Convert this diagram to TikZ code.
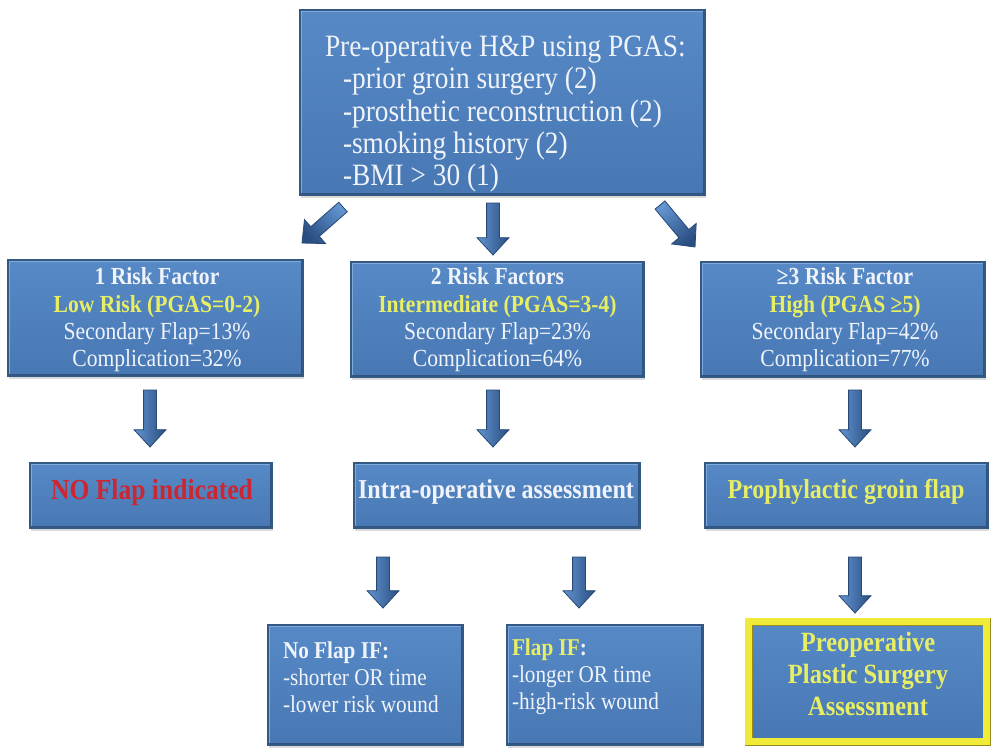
\documentclass[tikz,border=0pt]{standalone}
\usepackage{fontspec}
\setmainfont{Liberation Serif}[FakeStretch=0.88]
\usetikzlibrary{calc,shadows}
\newdimen\pxu \pxu=0.75pt
\definecolor{boxtop}{RGB}{86,137,198}
\definecolor{boxbot}{RGB}{72,120,180}
\definecolor{boxedge}{RGB}{52,88,132}
\definecolor{boxlight}{RGB}{128,170,222}
\definecolor{boxdark}{RGB}{48,84,128}
\definecolor{twhite}{RGB}{240,244,250}
\definecolor{ytext}{RGB}{232,238,100}
\definecolor{rtext}{RGB}{205,38,48}
\definecolor{arrlight}{RGB}{98,148,208}
\definecolor{arrmid}{RGB}{80,130,192}
\definecolor{arrdark}{RGB}{42,78,128}
\definecolor{arredge}{RGB}{40,72,118}
\definecolor{yfill}{RGB}{240,234,56}
\definecolor{yedge}{RGB}{150,140,30}
\newcommand\fsTop{\fontsize{23.3}{24.2}\selectfont}
\newcommand\fsMid{\fontsize{18.4}{20.5}\selectfont}
\newcommand\fsRow{\fontsize{20.5}{24}\selectfont}
\newcommand\fsLow{\fontsize{18.1}{20.3}\selectfont}
\newcommand\fsAss{\fontsize{20.9}{24}\selectfont}
\tikzset{
  bbox/.style={rectangle, inner sep=0pt, outer sep=0pt,
    top color=boxtop, bottom color=boxbot, draw=boxedge, line width=0.9pt,
    drop shadow={opacity=0.28, shadow xshift=0.6pt, shadow yshift=-2.6pt},
    path picture={
      \draw[boxlight, line width=3.6pt] (path picture bounding box.north west) -- (path picture bounding box.north east);
      \draw[boxlight, line width=2.4pt] (path picture bounding box.north west) -- (path picture bounding box.south west);
      \draw[boxdark, line width=3.6pt] (path picture bounding box.south west) -- (path picture bounding box.south east);
      \draw[boxdark, line width=2.4pt] (path picture bounding box.north east) -- (path picture bounding box.south east);
    }},
  ybox/.style={bbox, draw=yedge, line width=6pt, postaction={draw=yfill, line width=4.6pt}},
  txt/.style={text=twhite, inner sep=0pt, outer sep=0pt, align=center},
  barrow/.style={draw=arredge, line width=0.6pt, left color=arrlight, middle color=arrmid, right color=arrdark},
}
\newcommand\blockarrow[3][]{%
  \coordinate (#2h) at ($(#3)!13pt!(#2)$);
  \path[barrow,#1] ($(#2)!4.8pt!90:(#3)$) -- ($(#2h)!4.8pt!90:(#3)$) -- ($(#2h)!12pt!90:(#3)$)
    -- (#3) -- ($(#2h)!12pt!-90:(#3)$) -- ($(#2h)!4.8pt!-90:(#3)$) -- ($(#2)!4.8pt!-90:(#3)$) -- cycle;
}
\begin{document}
\begin{tikzpicture}[x=0.75pt,y=-0.75pt]
\useasboundingbox[fill=white] (0,0) rectangle (991,751);

% boxes
\node[bbox, minimum width=405\pxu, minimum height=185\pxu] (top) at (502.5,102.5) {};
\node[bbox, minimum width=295\pxu, minimum height=116\pxu] (low) at (155.5,318) {};
\node[bbox, minimum width=293\pxu, minimum height=115\pxu] (mid) at (497.5,319.5) {};
\node[bbox, minimum width=284\pxu, minimum height=115\pxu] (high) at (843,319.5) {};
\node[bbox, minimum width=242\pxu, minimum height=65\pxu] (noflap) at (151,495.5) {};
\node[bbox, minimum width=286\pxu, minimum height=65\pxu] (intra) at (497,495.5) {};
\node[bbox, minimum width=283\pxu, minimum height=65\pxu] (proph) at (846.5,495.5) {};
\node[bbox, minimum width=195\pxu, minimum height=120\pxu] (nofif) at (365.5,685) {};
\node[bbox, minimum width=196\pxu, minimum height=120\pxu] (fif) at (605,685) {};
\node[ybox, minimum width=238\pxu, minimum height=120\pxu] (plast) at (867.5,681.5) {};

% texts
\node[txt, anchor=west, align=left, font=\fsTop] (ttop) at (325,114)
  {Pre-operative H\&P using PGAS:\\
   \hspace*{18\pxu}-prior groin surgery (2)\\
   \hspace*{18\pxu}-prosthetic reconstruction (2)\\
   \hspace*{18\pxu}-smoking history (2)\\
   \hspace*{18\pxu}-BMI > 30 (1)};
\node[txt, font=\fsMid] (tlow) at (157,320)
  {\textbf{1 Risk Factor}\\ {\color{ytext}\textbf{Low Risk (PGAS=0-2)}}\\ Secondary Flap=13\%\\ Complication=32\%};
\node[txt, font=\fsMid] (tmid) at (497.5,320)
  {\textbf{2 Risk Factors}\\ {\color{ytext}\textbf{Intermediate (PGAS=3-4)}}\\ Secondary Flap=23\%\\ Complication=64\%};
\node[txt, font=\fsMid] (thigh) at (845,320)
  {\textbf{≥3 Risk Factor}\\ {\color{ytext}\textbf{High (PGAS ≥5)}}\\ Secondary Flap=42\%\\ Complication=77\%};
\node[txt, font=\fontsize{21.8}{24}\selectfont, text=rtext] (tnoflap) at (152,492) {\textbf{NO Flap indicated}};
\node[txt, font=\fsRow] (tintra) at (496,492) {\textbf{Intra-operative assessment}};
\node[txt, font=\fsRow, text=ytext] (tproph) at (846,492) {\textbf{Prophylactic groin flap}};
\node[txt, anchor=west, align=left, font=\fsLow] (tnofif) at (283,677)
  {\textbf{No Flap IF:}\\ -shorter OR time\\ -lower risk wound};
\node[txt, anchor=west, align=left, font=\fsLow] (tfif) at (512,677)
  {\textbf{{\color{ytext}Flap IF}:}\\ -longer OR time\\ -high-risk wound};
\node[txt, font=\fsAss, text=ytext] (tplast) at (868,674)
  {\textbf{Preoperative}\\ \textbf{Plastic Surgery}\\ \textbf{Assessment}};

% arrow ends
\coordinate (a1s) at (343,207); \coordinate (a1e) at (302,243);
\coordinate (a2s) at (493,203); \coordinate (a2e) at (493,255);
\coordinate (a3s) at (660,205); \coordinate (a3e) at (695,247);
\coordinate (a4s) at (150,390); \coordinate (a4e) at (150,447);
\coordinate (a5s) at (493,390); \coordinate (a5e) at (493,447);
\coordinate (a6s) at (855,390); \coordinate (a6e) at (855,447);
\coordinate (a7s) at (383,557); \coordinate (a7e) at (383,608);
\coordinate (a8s) at (579,557); \coordinate (a8e) at (579,608);
\coordinate (a9s) at (855,557); \coordinate (a9e) at (855,613);

\blockarrow[shading angle=-49]{a1s}{a1e}
\blockarrow{a2s}{a2e}
\blockarrow[shading angle=40]{a3s}{a3e}
\blockarrow{a4s}{a4e}
\blockarrow{a5s}{a5e}
\blockarrow{a6s}{a6e}
\blockarrow{a7s}{a7e}
\blockarrow{a8s}{a8e}
\blockarrow{a9s}{a9e}
\end{tikzpicture}
\end{document}
